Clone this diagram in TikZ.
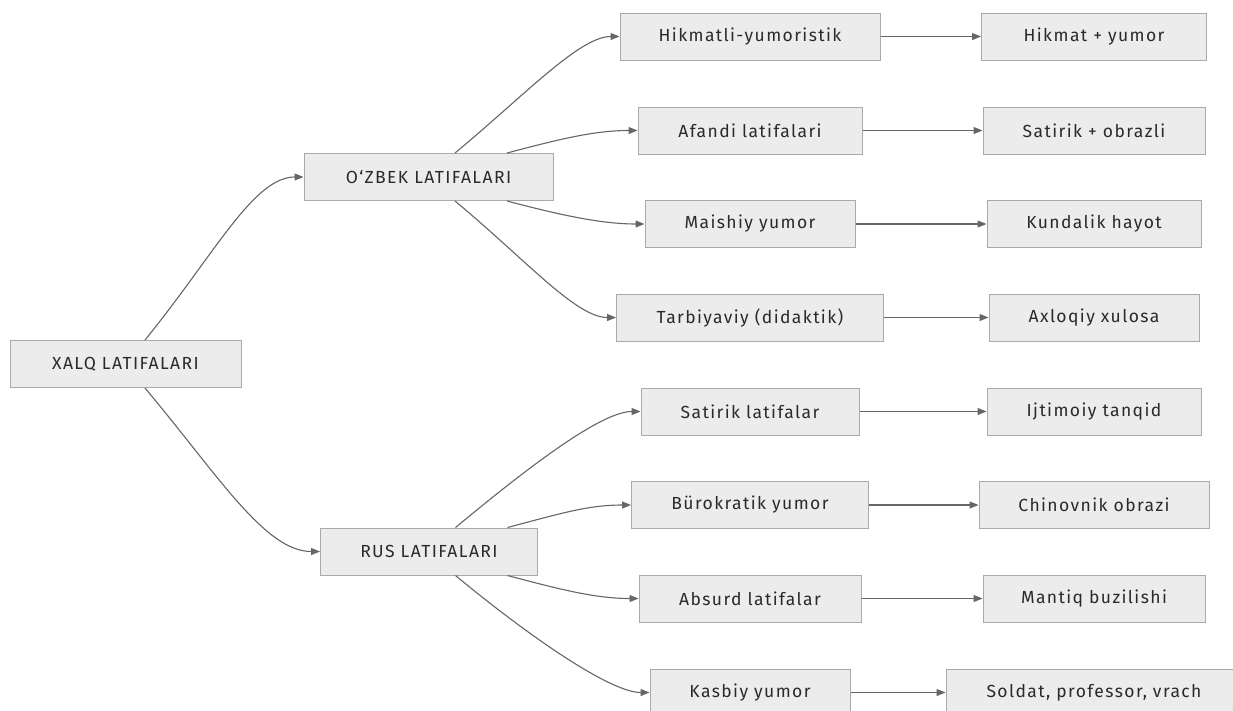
\documentclass[tikz,border=0pt]{standalone}
\usepackage{fontspec}
\setmainfont{Fira Sans}
\newfontfamily\boxfont[LetterSpace=8]{Fira Sans}
\usetikzlibrary{arrows.meta}
\definecolor{boxfill}{HTML}{ECECEC}
\definecolor{boxline}{HTML}{A9A9A9}
\definecolor{edgecol}{HTML}{666666}
\definecolor{txtcol}{HTML}{2A2A2A}
\begin{document}
\begin{tikzpicture}[x=1pt,y=-1pt,
  box/.style={draw=boxline, fill=boxfill, line width=1pt, minimum height=47pt, inner sep=0pt,
    text=txtcol, font=\boxfont\fontsize{17.5}{20}\selectfont, anchor=center},
  conn/.style={draw=edgecol, line width=1.1pt, -{Triangle[length=9pt,width=7pt]}}]
\useasboundingbox (0,0) rectangle (1233,710);
\fill[white] (0,0) rectangle (1233,710);
% level 0
\node[box, minimum width=231pt] (x) at (125.5,364) {XALQ LATIFALARI};
% level 1
\node[box, minimum width=249pt] (oz) at (428.5,177) {O‘ZBEK LATIFALARI};
\node[box, minimum width=217pt] (ru) at (429,551.5) {RUS LATIFALARI};
% level 2
\node[box, minimum width=260pt] (a1) at (750,36.5) {Hikmatli-yumoristik};
\node[box, minimum width=224pt] (a2) at (750,130.5) {Afandi latifalari};
\node[box, minimum width=210pt] (a3) at (750,224) {Maishiy yumor};
\node[box, minimum width=267pt] (a4) at (750,317.5) {Tarbiyaviy (didaktik)};
\node[box, minimum width=218pt] (a5) at (750,411.5) {Satirik latifalar};
\node[box, minimum width=237pt] (a6) at (750,505) {Bürokratik yumor};
\node[box, minimum width=222pt] (a7) at (750,598.5) {Absurd latifalar};
\node[box, minimum width=200pt] (a8) at (750,692.5) {Kasbiy yumor};
% level 3
\node[box, minimum width=225pt] (b1) at (1094,36.5) {Hikmat + yumor};
\node[box, minimum width=222pt] (b2) at (1094,130.5) {Satirik + obrazli};
\node[box, minimum width=214pt] (b3) at (1094,224) {Kundalik hayot};
\node[box, minimum width=210pt] (b4) at (1094,317.5) {Axloqiy xulosa};
\node[box, minimum width=214pt] (b5) at (1094,411.5) {Ijtimoiy tanqid};
\node[box, minimum width=230pt] (b6) at (1094,505) {Chinovnik obrazi};
\node[box, minimum width=222pt] (b7) at (1094,598.5) {Mantiq buzilishi};
\node[box, minimum width=296pt] (b8) at (1094,692.5) {Soldat, professor, vrach};
% root connectors
\draw[conn] ([xshift=19.5pt]x.north) .. controls +(70,-86) and +(-50,0) .. (oz.west);
\draw[conn] ([xshift=19.5pt]x.south) .. controls +(73,87) and +(-55,0) .. (ru.west);
% O'zbek branch
\draw[conn] ([xshift=26.5pt]oz.north) .. controls +(70,-58) and +(-40,0) .. (a1.west);
\draw[conn] ([xshift=78.5pt]oz.north) .. controls +(53,-14) and +(-43,0) .. (a2.west);
\draw[conn] ([xshift=78.5pt]oz.south) .. controls +(53,14) and +(-43,0) .. (a3.west);
\draw[conn] ([xshift=26.5pt]oz.south) .. controls +(70,58) and +(-40,0) .. (a4.west);
% Rus branch
\draw[conn] ([xshift=26.5pt]ru.north) .. controls +(70,-58) and +(-40,0) .. (a5.west);
\draw[conn] ([xshift=78.5pt]ru.north) .. controls +(53,-14) and +(-43,0) .. (a6.west);
\draw[conn] ([xshift=78.5pt]ru.south) .. controls +(53,14) and +(-43,0) .. (a7.west);
\draw[conn] ([xshift=26.5pt]ru.south) .. controls +(70,58) and +(-40,0) .. (a8.west);
% horizontal connectors
\foreach \i in {1,...,8} {\draw[conn] (a\i.east) -- (b\i.west);}
\end{tikzpicture}
\end{document}
